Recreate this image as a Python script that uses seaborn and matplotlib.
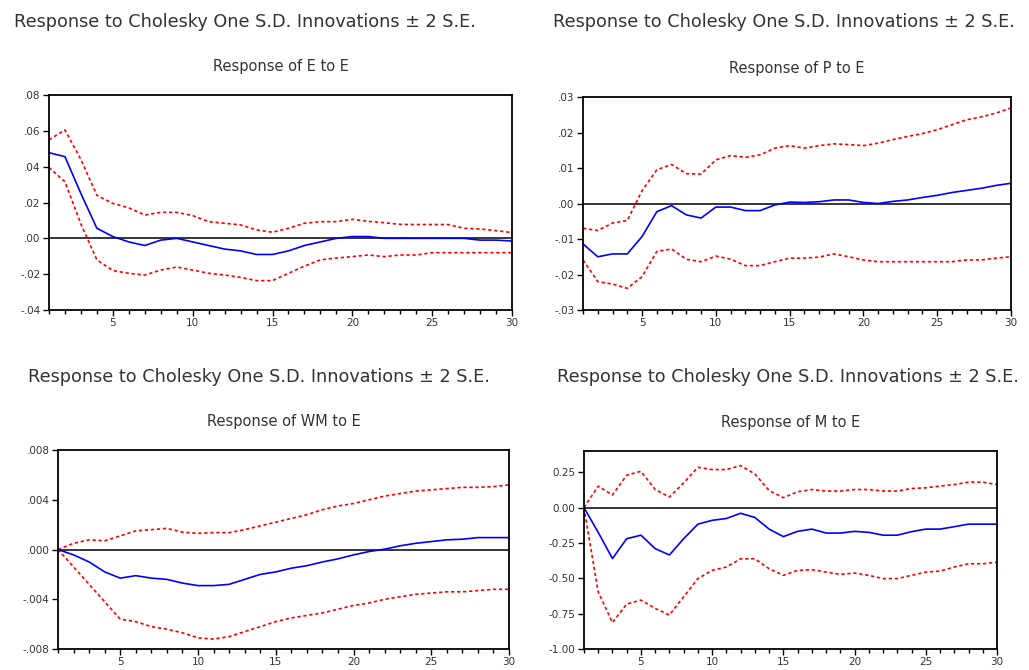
import numpy as np
import seaborn as sns
import matplotlib.pyplot as plt
from matplotlib.ticker import MultipleLocator, FuncFormatter

periods = list(range(1, 31))

# Response of E to E
e_resp = [0.0478, 0.0456, 0.025, 0.0056, 0.001, -0.002, -0.004, -0.001, 0.0, -0.002,
          -0.004, -0.006, -0.007, -0.009, -0.009, -0.007, -0.004, -0.002, 0.0, 0.001,
          0.001, 0.0, 0.0, 0.0, 0.0, 0.0, 0.0, -0.001, -0.001, -0.0015]
e_up = [0.055, 0.0605, 0.044, 0.024, 0.0195, 0.017, 0.013, 0.0145, 0.0145, 0.0127,
        0.0093, 0.0084, 0.0075, 0.0047, 0.0034, 0.0056, 0.0084, 0.0093, 0.0093, 0.0106,
        0.0095, 0.0087, 0.0078, 0.0077, 0.0077, 0.0077, 0.0056, 0.0052, 0.0043, 0.0032]
e_lo = [0.0396, 0.0316, 0.008, -0.012, -0.018, -0.0195, -0.0205, -0.0177, -0.016, -0.0177,
        -0.0195, -0.0205, -0.0218, -0.0236, -0.0236, -0.0195, -0.0155, -0.012, -0.011, -0.0102,
        -0.0093, -0.0102, -0.0093, -0.0093, -0.008, -0.008, -0.008, -0.008, -0.008, -0.008]

# Response of P to E
p_resp = [-0.0114, -0.015, -0.0142, -0.0142, -0.0093, -0.0023, -0.0006, -0.0032, -0.0041, -0.001,
          -0.001, -0.002, -0.002, -0.0004, 0.0004, 0.0003, 0.0005, 0.001, 0.001, 0.0003,
          0.0, 0.0006, 0.001, 0.0017, 0.0023, 0.0031, 0.0037, 0.0043, 0.0051, 0.0057]
p_up = [-0.007, -0.0076, -0.0055, -0.0048, 0.0036, 0.0095, 0.011, 0.0084, 0.0083, 0.0123,
        0.0135, 0.013, 0.0137, 0.0156, 0.0163, 0.0156, 0.0163, 0.0168, 0.0166, 0.0163,
        0.017, 0.018, 0.0189, 0.0197, 0.0208, 0.0222, 0.0236, 0.0244, 0.0255, 0.0269]
p_lo = [-0.0159, -0.022, -0.0227, -0.0239, -0.0206, -0.0135, -0.0128, -0.0157, -0.0164, -0.0148,
        -0.0157, -0.0175, -0.0175, -0.0164, -0.0154, -0.0154, -0.0151, -0.0142, -0.015, -0.0159,
        -0.0164, -0.0164, -0.0164, -0.0164, -0.0164, -0.0164, -0.0159, -0.0159, -0.0154, -0.015]

# Response of WM to E
wm_resp = [0.0, -0.00043, -0.001, -0.0018, -0.0023, -0.0021, -0.0023, -0.0024, -0.0027, -0.0029,
           -0.0029, -0.0028, -0.0024, -0.002, -0.0018, -0.0015, -0.0013, -0.001, -0.00075, -0.00043,
           -0.00016, 0.00003, 0.0003, 0.0005, 0.00064, 0.00078, 0.00083, 0.00096, 0.00096, 0.00096]
wm_up = [0.0, 0.0005, 0.00078, 0.0007, 0.0011, 0.0015, 0.0016, 0.0017, 0.0014, 0.0013,
         0.00136, 0.00136, 0.0016, 0.0019, 0.0022, 0.0025, 0.0028, 0.0032, 0.0035, 0.0037,
         0.004, 0.0043, 0.0045, 0.0047, 0.0048, 0.0049, 0.005, 0.005, 0.00506, 0.0052]
wm_lo = [0.0, -0.0014, -0.0028, -0.0042, -0.0056, -0.0058, -0.0062, -0.0064, -0.0067, -0.0071,
         -0.0072, -0.007, -0.0066, -0.0062, -0.0058, -0.0055, -0.0053, -0.0051, -0.0048, -0.0045,
         -0.0043, -0.004, -0.0038, -0.0036, -0.0035, -0.0034, -0.0034, -0.0033, -0.0032, -0.0032]

# Response of M to E
m_resp = [0.0, -0.175, -0.36, -0.22, -0.195, -0.29, -0.335, -0.22, -0.117, -0.09,
          -0.077, -0.04, -0.07, -0.152, -0.205, -0.168, -0.152, -0.18, -0.18, -0.168,
          -0.175, -0.195, -0.195, -0.17, -0.152, -0.152, -0.135, -0.117, -0.117, -0.117]
m_up = [0.0, 0.152, 0.089, 0.229, 0.257, 0.128, 0.075, 0.175, 0.285, 0.269,
        0.269, 0.297, 0.238, 0.121, 0.07, 0.112, 0.128, 0.117, 0.117, 0.128,
        0.128, 0.117, 0.117, 0.135, 0.14, 0.152, 0.163, 0.18, 0.18, 0.163]
m_lo = [0.0, -0.596, -0.813, -0.682, -0.654, -0.713, -0.76, -0.63, -0.502, -0.444,
        -0.42, -0.362, -0.362, -0.432, -0.479, -0.444, -0.439, -0.456, -0.472, -0.463,
        -0.479, -0.502, -0.502, -0.479, -0.456, -0.449, -0.42, -0.397, -0.397, -0.386]
m_yticks = [-1.0, -0.75, -0.5, -0.25, 0.0, 0.25]

sup_title = "Response to Cholesky One S.D. Innovations \u00b1 2 S.E."

sns.set_theme(style="white")
plt.rcParams['font.family'] = ['DejaVu Sans']

fig = plt.figure(figsize=(10.29, 6.70), dpi=100)

def fmt_dot(decimals):
    # estilo EViews: sin el cero inicial (.02, -.04)
    def f(v, pos):
        s = f"{v:.{decimals}f}"
        if s.startswith("-0."):
            s = "-" + s[2:]
        elif s.startswith("0."):
            s = s[1:]
        return s
    return FuncFormatter(f)

paneles = [
    # rect, title, resp, up, lo, ylim, ystep, formatter
    ([0.0476, 0.5373, 0.4500, 0.3209], "Response of E to E", e_resp, e_up, e_lo,
     (-0.04, 0.08), 0.02, fmt_dot(2)),
    ([0.5666, 0.5373, 0.4159, 0.3179], "Response of P to E", p_resp, p_up, p_lo,
     (-0.03, 0.03), 0.01, fmt_dot(2)),
    ([0.0564, 0.0313, 0.4383, 0.2970], "Response of WM to E", wm_resp, wm_up, wm_lo,
     (-0.008, 0.008), 0.004, fmt_dot(3)),
    ([0.5675, 0.0313, 0.4014, 0.2955], "Response of M to E", m_resp, m_up, m_lo,
     (-1.0, 0.40), None, FuncFormatter(lambda v, p: f"{v:.2f}")),
]

for rect, titulo, resp, up, lo, ylim, ystep, fmt in paneles:
    ax = fig.add_axes(rect)
    ax.axhline(0, color="black", lw=1.1, zorder=1)
    sns.lineplot(x=periods, y=up, ax=ax, color="red", lw=1.2, linestyle=(0, (2, 1.6)))
    sns.lineplot(x=periods, y=lo, ax=ax, color="red", lw=1.2, linestyle=(0, (2, 1.6)))
    sns.lineplot(x=periods, y=resp, ax=ax, color="blue", lw=1.2)
    ax.set_xlim(1, 30)
    ax.set_ylim(*ylim)
    ax.xaxis.set_major_locator(MultipleLocator(5))
    ax.xaxis.set_minor_locator(MultipleLocator(1))
    if ystep is None:
        ax.set_yticks(m_yticks)
    else:
        ax.yaxis.set_major_locator(MultipleLocator(ystep))
    ax.yaxis.set_major_formatter(fmt)
    ax.tick_params(axis="both", which="major", direction="out", length=4, width=1,
                   color="black", labelsize=7.5, labelcolor="#333333", pad=2)
    ax.tick_params(axis="x", which="minor", direction="out", length=3, width=1, color="black")
    ax.tick_params(bottom=True, left=True, which="both")
    ax.tick_params(axis="y", which="minor", left=False)
    for sp in ax.spines.values():
        sp.set_visible(True)
        sp.set_color("black")
        sp.set_linewidth(1.3)
    ax.set_xlabel("")
    ax.set_ylabel("")
    ax.set_title(titulo, fontsize=10.5, color="#333333", pad=17)

fig.text(0.014, 0.967, sup_title, fontsize=12.7, color="#333333", ha="left", va="center")
fig.text(0.537, 0.967, sup_title, fontsize=12.7, color="#333333", ha="left", va="center")
fig.text(0.027, 0.437, sup_title, fontsize=12.7, color="#333333", ha="left", va="center")
fig.text(0.541, 0.437, sup_title, fontsize=12.7, color="#333333", ha="left", va="center")

fig.savefig("out.png", dpi=100)
